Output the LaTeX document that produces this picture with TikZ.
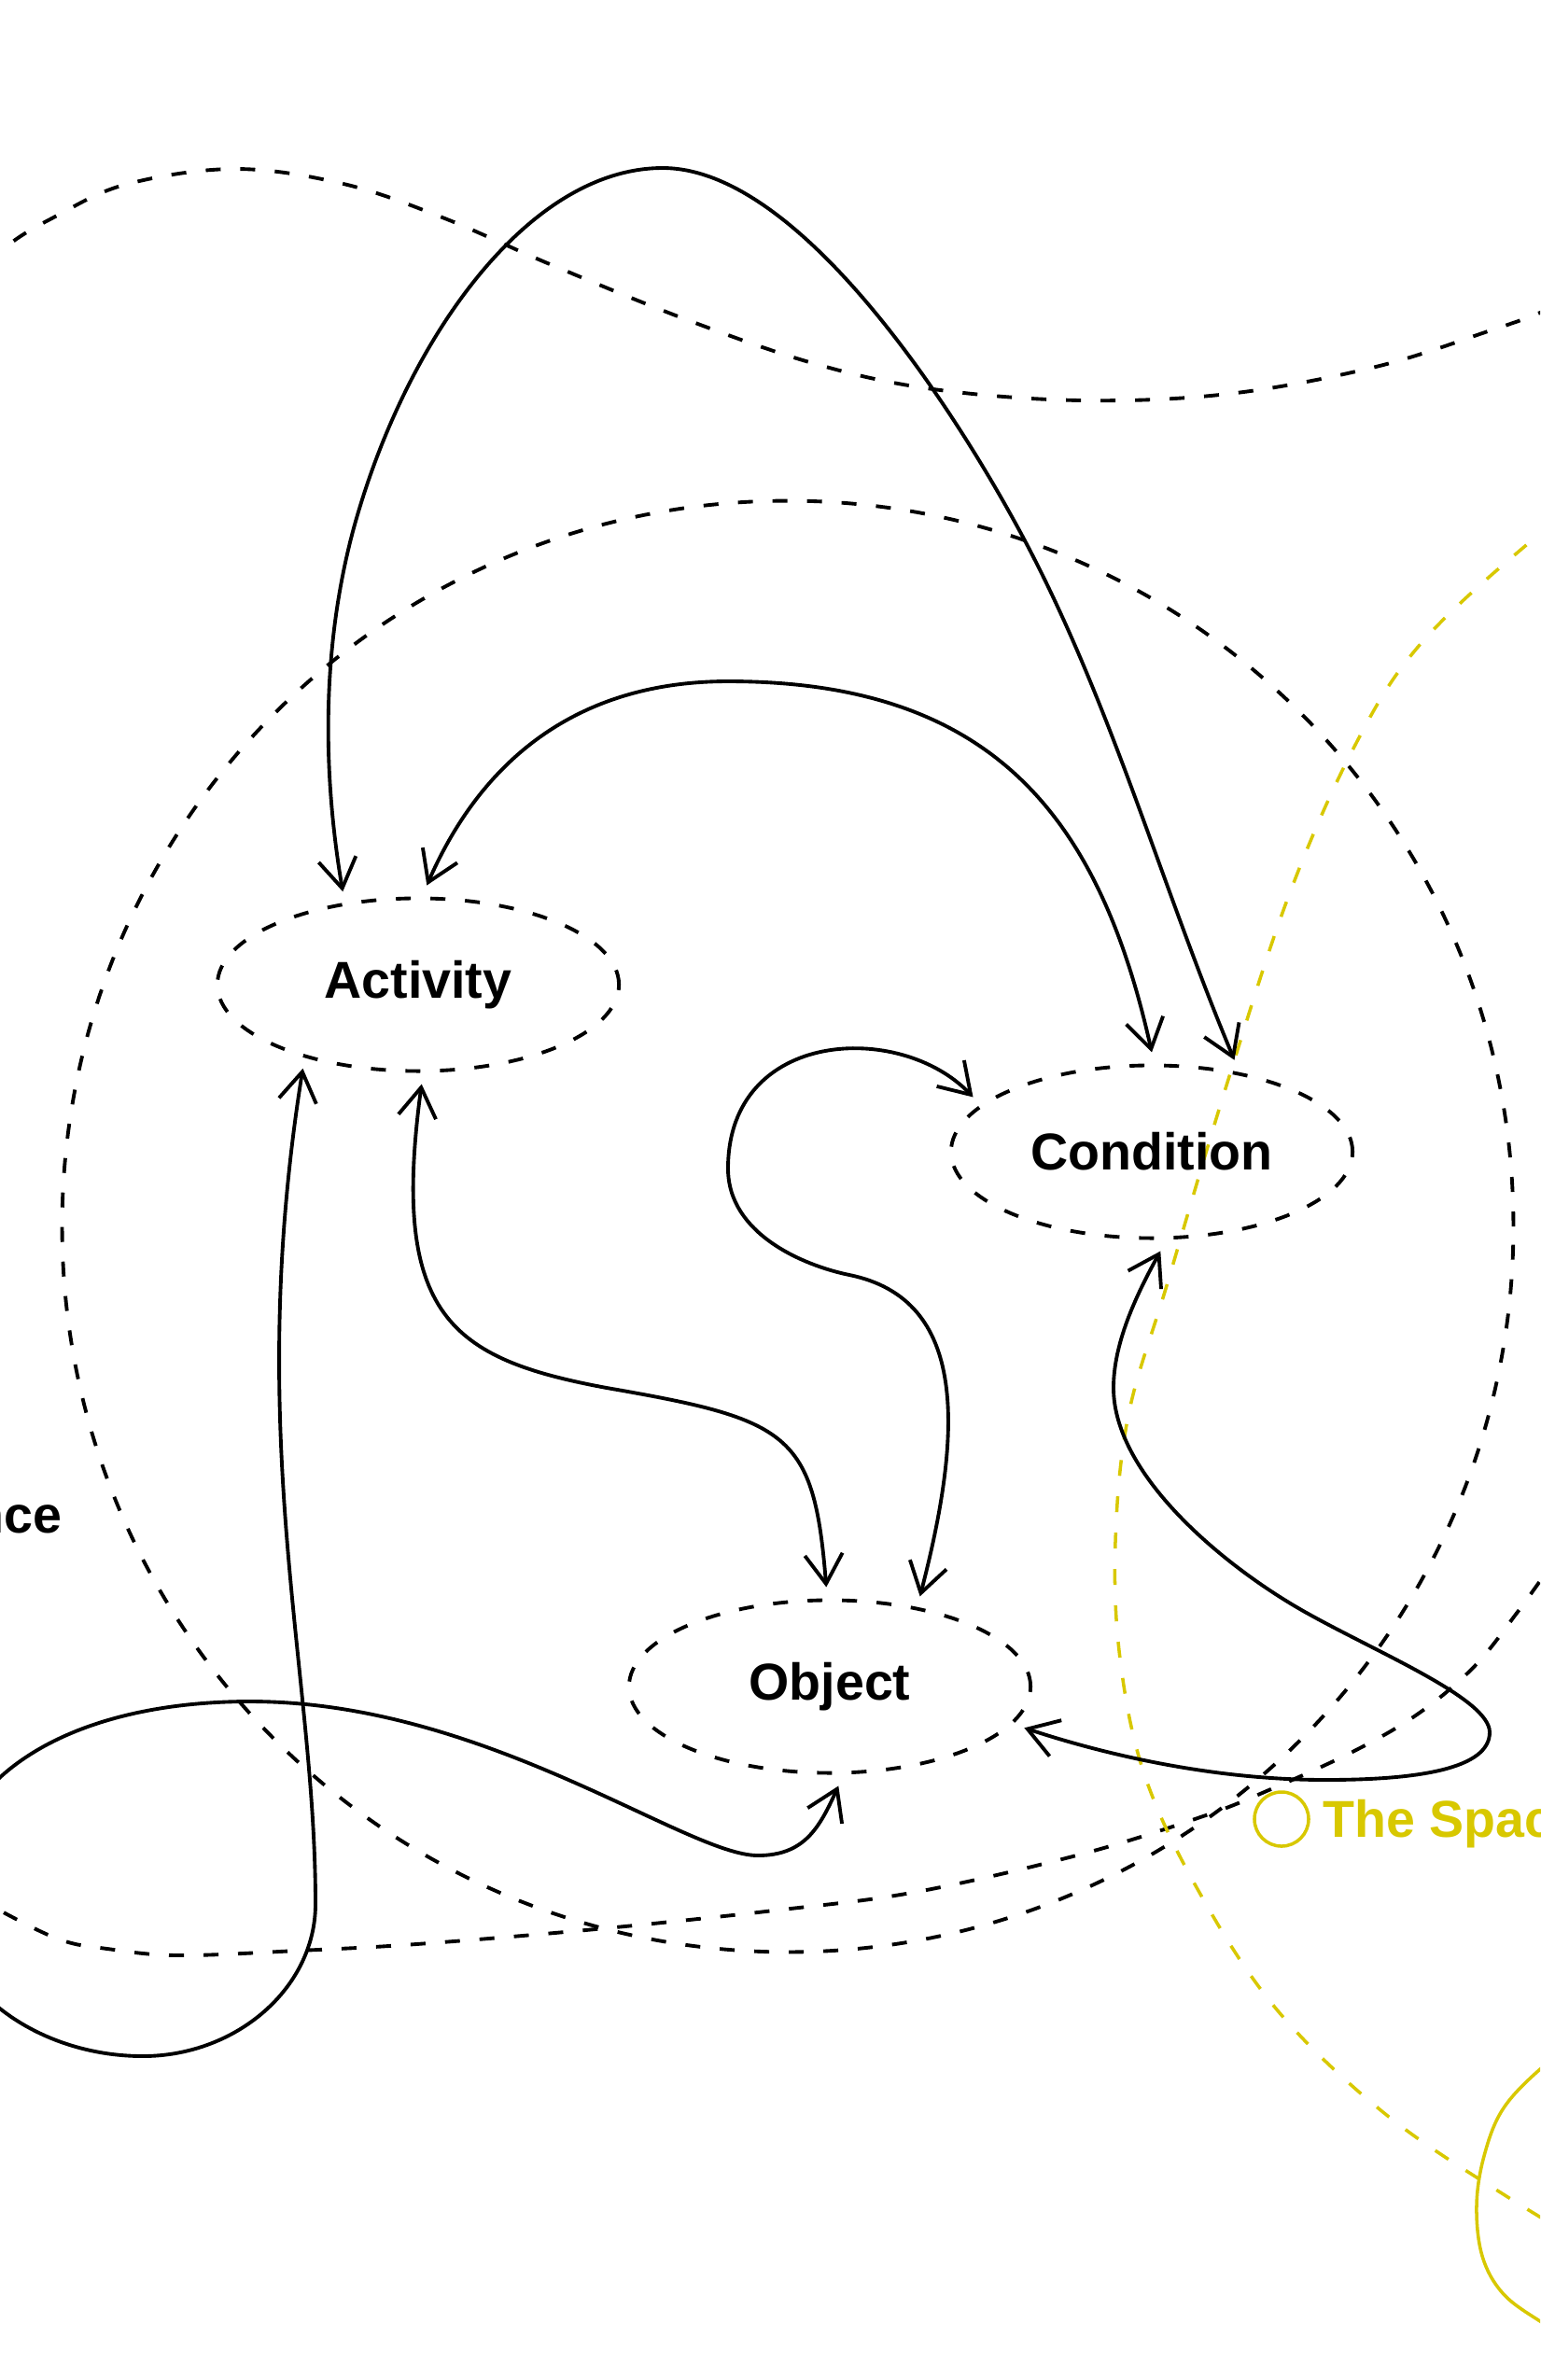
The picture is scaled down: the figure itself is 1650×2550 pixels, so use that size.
\documentclass[tikz,border=0pt]{standalone}
\usepackage{fontspec}
\setmainfont{Liberation Sans}
\usetikzlibrary{arrows.meta,shapes.geometric}
\definecolor{yel}{HTML}{D8C800}
\begin{document}
\begin{tikzpicture}[x=0.01cm,y=-0.01cm,
  tipv/.tip={Straight Barb[length=9pt,width=11.5pt]},
  conn/.style={line width=1.1pt, tipv-tipv},
  blob/.style={draw, line width=1.1pt, dash pattern=on 0.16cm off 0.21cm},
  yblob/.style={draw=yel, line width=1pt, dash pattern=on 0.17cm off 0.22cm},
  lbl/.style={font=\bfseries\fontsize{15.8}{18}\selectfont},
  concept/.style={ellipse, draw, line width=1.1pt, dash pattern=on 0.16cm off 0.21cm,
    minimum width=4.30cm, minimum height=1.85cm, outer sep=0.14cm, lbl},
]
\useasboundingbox (0,0) rectangle (1650,2550);
\clip (0,0) rectangle (1650,2550);

% dashed regions
\draw[blob] plot[smooth, tension=0.6] coordinates {(-60,340) (0,270) (63,230) (137,197) (252,181) (368,197) (474,233) (589,283) (737,343) (874,390) (1000,417) (1158,429) (1316,422) (1474,393) (1600,353) (1650,335) (1720,305)};
\draw[blob] (844,1314) circle[radius=7.77cm];
\draw[blob] plot[smooth, tension=0.6] coordinates {(-60,2012) (0,2047) (64,2078) (115,2088) (191,2095) (319,2090) (446,2083) (638,2067) (829,2047) (982,2027) (1157,1987) (1286,1947) (1357,1919) (1451,1876) (1521,1835) (1580,1785) (1626,1727) (1650,1694) (1690,1640)};

\draw[yblob] plot[smooth, tension=0.6] coordinates {(1760,490) (1640,580) (1521,691) (1451,800) (1381,959) (1314,1163) (1251,1374) (1209,1516) (1195,1652) (1200,1777) (1226,1901) (1283,2024) (1367,2152) (1483,2264) (1617,2355) (1760,2440)};
\draw[yel, line width=1pt] plot[smooth, tension=0.6] coordinates {(1700,2180) (1650,2217) (1610,2260) (1590,2310) (1582,2363) (1588,2417) (1610,2457) (1650,2487) (1700,2515)};

% concept nodes
\node[concept] (act) at (448,1055) {Activity};
\node[concept] (cond) at (1234,1234) {Condition};
\node[concept] (obj) at (889,1807) {Object};

% labels
\node[lbl, anchor=base east, inner sep=0] (spacelbl) at (67,1642) {nce};
\node[circle, draw=yel, line width=1pt, minimum size=0.58cm, inner sep=0] (legring) at (1373,1949) {};
\node[lbl, text=yel, anchor=base west, inner sep=0] (legtxt) at (1417,1968) {The Space};

% connectors
\draw[conn] (act.129) .. controls (344,818) and (345,676) .. (385,545)
  .. controls (443,353) and (570,180) .. (710,180)
  .. controls (860,180) and (1030,450) .. (1100,583)
  .. controls (1192,758) and (1245,951) .. (cond.48);

\draw[conn] (act.85) .. controls (521,803) and (630,730) .. (780,730)
  .. controls (1060,730) and (1177,871) .. (cond.90);

\draw[conn] (act.272) .. controls (418,1410) and (483,1456) .. (650,1487)
  .. controls (846,1521) and (872,1535) .. (obj.92);

\draw[conn] (cond.163) .. controls (965,1094) and (780,1102) .. (780,1252)
  .. controls (780,1322) and (861,1356) .. (910,1366)
  .. controls (1037,1392) and (1032,1532) .. (obj.45);

\draw[conn] (act.216) .. controls (261,1542) and (338,1790) .. (338,2040)
  .. controls (338,2130) and (253,2203) .. (153,2203)
  .. controls (40,2203) and (-60,2130) .. (-60,2040)
  .. controls (-60,1900) and (80,1823) .. (268,1823)
  .. controls (520,1823) and (735,1988) .. (812,1988)
  .. controls (862,1988) and (878,1958) .. (obj.275);

\draw[conn] (cond.275) .. controls (1216,1390) and (1193,1440) .. (1193,1487)
  .. controls (1193,1580) and (1311,1678) .. (1398,1727)
  .. controls (1476,1771) and (1596,1820) .. (1596,1856)
  .. controls (1596,1895) and (1520,1907) .. (1420,1907)
  .. controls (1300,1907) and (1184,1880) .. (obj.348);
\end{tikzpicture}
\end{document}
